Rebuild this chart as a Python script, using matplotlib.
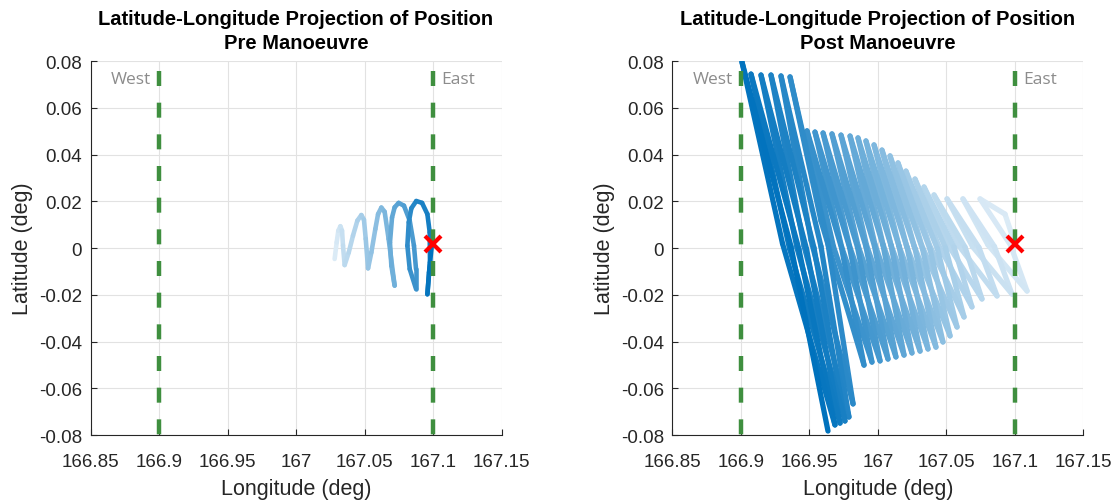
import matplotlib
matplotlib.use("Agg")
import matplotlib.pyplot as plt
import numpy as np
from matplotlib.collections import LineCollection
from matplotlib.colors import to_rgb

plt.rcParams['font.family'] = ['Liberation Sans', 'DejaVu Sans']
plt.rcParams['axes.unicode_minus'] = False
plt.rcParams['lines.scale_dashes'] = False

# ---------------- data ----------------
lon_ticks = [166.85, 166.9, 166.95, 167.0, 167.05, 167.1, 167.15]
lon_tick_labels = ["166.85", "166.9", "166.95", "167", "167.05", "167.1", "167.15"]
lat_ticks = [-0.08, -0.06, -0.04, -0.02, 0.0, 0.02, 0.04, 0.06, 0.08]
lat_tick_labels = ["-0.08", "-0.06", "-0.04", "-0.02", "0", "0.02", "0.04", "0.06", "0.08"]

west_lon = 166.9
east_lon = 167.1
target_lon = 167.1
target_lat = 0.0015

titles = ["Latitude-Longitude Projection of Position\nPre Manoeuvre",
          "Latitude-Longitude Projection of Position\nPost Manoeuvre"]

# Pre-manoeuvre ground track
pre_lon = [167.0282, 167.0297, 167.0309, 167.0324, 167.0336, 167.0343, 167.0355,
           167.0385, 167.0416, 167.0448, 167.0477, 167.0496, 167.0509, 167.0526,
           167.0550, 167.0579, 167.0599, 167.0623, 167.0647, 167.0676, 167.0720,
           167.0696, 167.0686, 167.0701, 167.0720, 167.0749, 167.0788, 167.0830,
           167.0861, 167.0876, 167.0876, 167.0830, 167.0813, 167.0823, 167.0842,
           167.0878, 167.0920, 167.0959, 167.0976, 167.0978, 167.0959, 167.0971,
           167.0993]
pre_lat = [-0.0047, 0.0024, 0.0074, 0.0093, 0.0074, 0.0010, -0.0073,
           -0.0019, 0.0053, 0.0117, 0.0141, 0.0121, 0.0039, -0.0087,
           -0.0019, 0.0081, 0.0145, 0.0173, 0.0155, 0.0039, -0.0161,
           -0.0076, 0.0024, 0.0131, 0.0174, 0.0193, 0.0181, 0.0117,
           0.0010, -0.0090, -0.0175, -0.0090, 0.0010, 0.0110, 0.0170,
           0.0201, 0.0193, 0.0145, 0.0067, -0.0061, -0.0198, -0.0104,
           0.0021]

# Post-manoeuvre ground track
post_lon = [167.1000, 167.0927,
            167.0745, 167.0967, 167.1088, 167.0803,
            167.0620, 167.0850, 167.0978, 167.0690,
            167.0504, 167.0737, 167.0869, 167.0588,
            167.0409, 167.0635, 167.0759, 167.0504,
            167.0336, 167.0555, 167.0686, 167.0434,
            167.0270, 167.0493, 167.0628, 167.0372,
            167.0204, 167.0434, 167.0577, 167.0318,
            167.0146, 167.0380, 167.0526, 167.0263,
            167.0088, 167.0325, 167.0474, 167.0208,
            167.0029, 167.0270, 167.0423, 167.0153,
            166.9971, 167.0212, 167.0365, 167.0095,
            166.9912, 167.0153, 167.0307, 167.0037,
            166.9854, 167.0095, 167.0248, 166.9978,
            166.9796, 167.0037, 167.0190, 166.9916,
            166.9730, 166.9974, 167.0131, 166.9854,
            166.9664, 166.9912, 167.0073, 166.9792,
            166.9599, 166.9850, 167.0015, 166.9734,
            166.9540, 166.9792, 166.9956, 166.9675,
            166.9482, 166.9734, 166.9898, 166.9584,
            166.9358, 166.9631, 166.9818, 166.9511,
            166.9292, 166.9584, 166.9788, 166.9460,
            166.9219, 166.9533, 166.9759, 166.9409,
            166.9146, 166.9478, 166.9723, 166.9354,
            166.9073, 166.9423, 166.9686, 166.9303,
            166.9007, 166.9365, 166.9635]
post_lat = [0.0017, 0.0145,
            0.0210, 0.0013, -0.0184, 0.0013,
            0.0210, 0.0006, -0.0197, 0.0006,
            0.0210, 0.0002, -0.0205, 0.0011,
            0.0227, 0.0004, -0.0218, 0.0021,
            0.0261, 0.0004, -0.0252, 0.0021,
            0.0295, 0.0000, -0.0295, 0.0017,
            0.0329, -0.0004, -0.0338, 0.0013,
            0.0364, -0.0006, -0.0376, 0.0009,
            0.0394, -0.0004, -0.0402, 0.0009,
            0.0419, -0.0002, -0.0424, 0.0009,
            0.0441, 0.0004, -0.0432, 0.0013,
            0.0458, 0.0009, -0.0441, 0.0015,
            0.0471, 0.0011, -0.0449, 0.0015,
            0.0479, 0.0011, -0.0458, 0.0013,
            0.0483, 0.0009, -0.0466, 0.0011,
            0.0488, 0.0006, -0.0475, 0.0009,
            0.0492, 0.0004, -0.0483, 0.0006,
            0.0496, 0.0004, -0.0488, 0.0006,
            0.0501, 0.0000, -0.0501, 0.0116,
            0.0732, 0.0032, -0.0667, 0.0034,
            0.0736, 0.0006, -0.0723, 0.0009,
            0.0740, 0.0000, -0.0740, 0.0000,
            0.0740, -0.0004, -0.0749, -0.0002,
            0.0744, -0.0006, -0.0757, 0.0019,
            0.0796, 0.0006, -0.0783]

# ---------------- style ----------------
dark_blue = np.array(to_rgb('#0072BD'))
light_blue = np.array([0.86, 0.92, 0.965])
green = '#3f8f3f'
text_col = '#262626'


def gradient_track(ax, lon, lat, lw):
    pts = np.column_stack([lon, lat])
    segs = np.stack([pts[:-1], pts[1:]], axis=1)
    t = np.linspace(0, 1, len(segs))
    cols = light_blue[None, :] * (1 - t[:, None]) + dark_blue[None, :] * t[:, None]
    lc = LineCollection(segs, colors=cols, linewidths=lw, capstyle='round',
                        joinstyle='round', zorder=2)
    ax.add_collection(lc)


fig = plt.figure(figsize=(11.18, 5.02), dpi=100)
ax_l = fig.add_axes([0.08095, 0.13147, 0.36762, 0.74502])
ax_r = fig.add_axes([0.60152, 0.13147, 0.36762, 0.74502])

tracks = [(pre_lon, pre_lat, 3.3), (post_lon, post_lat, 3.8)]

for ax, title, (lon, lat, lw) in zip([ax_l, ax_r], titles, tracks):
    ax.set_xlim(166.85, 167.15)
    ax.set_ylim(-0.08, 0.08)
    ax.set_xticks(lon_ticks)
    ax.set_xticklabels(lon_tick_labels)
    ax.set_yticks(lat_ticks)
    ax.set_yticklabels(lat_tick_labels)
    ax.grid(True, color='#e2e2e2', linewidth=0.8, zorder=0)
    ax.set_axisbelow(True)
    for s in ['top', 'right']:
        ax.spines[s].set_visible(False)
    for s in ['left', 'bottom']:
        ax.spines[s].set_color(text_col)
        ax.spines[s].set_linewidth(0.8)
    ax.tick_params(direction='in', length=4, width=0.8, color=text_col,
                   labelsize=13.5, labelcolor=text_col, pad=6)
    ax.tick_params(axis='x', pad=13)
    ax.set_xlabel('Longitude (deg)', fontsize=15.5, color=text_col, labelpad=6)
    ax.set_ylabel('Latitude (deg)', fontsize=15.5, color=text_col, labelpad=4)
    ax.set_title(title, fontsize=14.5, fontweight='bold', linespacing=1.35, pad=9.5)

    gradient_track(ax, lon, lat, lw)

    for xl in [west_lon, east_lon]:
        ax.plot([xl, xl], [0.08, -0.08], color=green, lw=3.2,
                linestyle=(15.6, (10.8, 12.0)), zorder=3,
                dash_capstyle='butt')
    ax.plot([target_lon], [target_lat], linestyle='none', marker='x', color='red',
            ms=11, mew=3, zorder=5)
    ax.annotate('West', xy=(west_lon, 0.0723), xytext=(-6, 0), textcoords='offset points',
                ha='right', va='center', fontsize=12.5, color='#8c8c8c',
                family=['Open Sans', 'DejaVu Sans'], zorder=6)
    ax.annotate('East', xy=(east_lon, 0.0723), xytext=(6, 0), textcoords='offset points',
                ha='left', va='center', fontsize=12.5, color='#8c8c8c',
                family=['Open Sans', 'DejaVu Sans'], zorder=6)

fig.savefig('out.png', dpi=100)
